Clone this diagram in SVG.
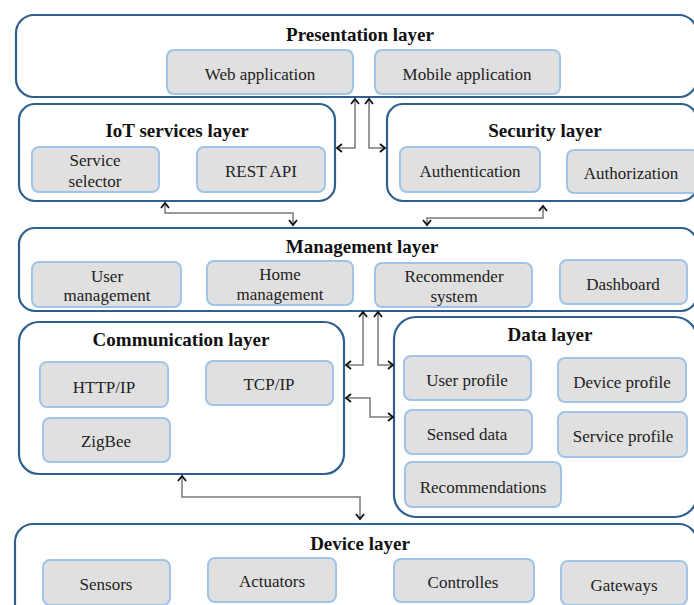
<svg xmlns="http://www.w3.org/2000/svg" width="694" height="605" viewBox="0 0 694 605">
<defs>
<marker id="arr" viewBox="-7 -6 9 12" refX="0" refY="0" markerWidth="9" markerHeight="12" markerUnits="userSpaceOnUse" orient="auto-start-reverse">
<path d="M-5,-4 L0,0 L-5,4" fill="none" stroke="#111" stroke-width="1.8"/>
</marker>
</defs>
<style>
.layer{fill:#fff;stroke:#2f5f8f;stroke-width:2.2}
.item{fill:#e0e0e0;stroke:#9fc4e8;stroke-width:2}
.title{font-family:"Liberation Serif","Times New Roman",serif;font-weight:bold;font-size:19px;fill:#111;text-anchor:middle}
.lbl{font-family:"Liberation Serif","Times New Roman",serif;font-size:17px;fill:#222;text-anchor:middle}
.conn{fill:none;stroke:#7a7a7a;stroke-width:1.5;marker-start:url(#arr);marker-end:url(#arr)}
</style>
<rect width="694" height="605" fill="#fff"/>

<g id="presentation">
<rect class="layer" x="16" y="15" width="681" height="82" rx="18"/>
<text class="title" x="360" y="41">Presentation layer</text>
<g id="web-app"><rect class="item" x="167" y="50" width="186" height="44" rx="7"/><text class="lbl" x="260" y="80">Web application</text></g>
<g id="mobile-app"><rect class="item" x="375" y="50" width="185" height="44" rx="7"/><text class="lbl" x="467" y="80">Mobile application</text></g>
</g>

<g id="iot-services">
<rect class="layer" x="19" y="104" width="316" height="97" rx="16"/>
<text class="title" x="177" y="137">IoT services layer</text>
<g id="service-selector"><rect class="item" x="32" y="147" width="127" height="45" rx="7"/><text class="lbl" x="95" y="166">Service</text><text class="lbl" x="95" y="187">selector</text></g>
<g id="rest-api"><rect class="item" x="197" y="147" width="128" height="45" rx="7"/><text class="lbl" x="261" y="177">REST API</text></g>
</g>

<g id="security">
<rect class="layer" x="387" y="104" width="310" height="97" rx="16"/>
<text class="title" x="545" y="137">Security layer</text>
<g id="authentication"><rect class="item" x="400" y="147" width="140" height="45" rx="7"/><text class="lbl" x="470" y="177">Authentication</text></g>
<g id="authorization"><rect class="item" x="567" y="150" width="132" height="43" rx="7"/><text class="lbl" x="631" y="179">Authorization</text></g>
</g>

<g id="management">
<rect class="layer" x="19" y="228" width="678" height="83" rx="16"/>
<text class="title" x="362" y="253">Management layer</text>
<g id="user-management"><rect class="item" x="32" y="262" width="149" height="45" rx="7"/><text class="lbl" x="107" y="282">User</text><text class="lbl" x="107" y="301">management</text></g>
<g id="home-management"><rect class="item" x="207" y="261" width="146" height="44" rx="7"/><text class="lbl" x="280" y="280">Home</text><text class="lbl" x="280" y="300">management</text></g>
<g id="recommender-system"><rect class="item" x="375" y="263" width="157" height="44" rx="7"/><text class="lbl" x="454" y="282">Recommender</text><text class="lbl" x="454" y="302">system</text></g>
<g id="dashboard"><rect class="item" x="560" y="260" width="127" height="44" rx="7"/><text class="lbl" x="623" y="290">Dashboard</text></g>
</g>

<g id="communication">
<rect class="layer" x="19" y="322" width="325" height="152" rx="20"/>
<text class="title" x="181" y="346">Communication layer</text>
<g id="http-ip"><rect class="item" x="40" y="362" width="128" height="45" rx="7"/><text class="lbl" x="104" y="393">HTTP/IP</text></g>
<g id="tcp-ip"><rect class="item" x="206" y="361" width="127" height="44" rx="7"/><text class="lbl" x="269" y="390">TCP/IP</text></g>
<g id="zigbee"><rect class="item" x="43" y="418" width="127" height="44" rx="7"/><text class="lbl" x="106" y="447">ZigBee</text></g>
</g>

<g id="data">
<rect class="layer" x="394" y="317" width="303" height="200" rx="22"/>
<text class="title" x="550" y="341">Data layer</text>
<g id="user-profile"><rect class="item" x="404" y="356" width="127" height="44" rx="7"/><text class="lbl" x="467" y="386">User profile</text></g>
<g id="device-profile"><rect class="item" x="558" y="358" width="128" height="44" rx="7"/><text class="lbl" x="622" y="388">Device profile</text></g>
<g id="sensed-data"><rect class="item" x="405" y="410" width="127" height="44" rx="7"/><text class="lbl" x="467" y="440">Sensed data</text></g>
<g id="service-profile"><rect class="item" x="558" y="412" width="129" height="45" rx="7"/><text class="lbl" x="623" y="442">Service profile</text></g>
<g id="recommendations"><rect class="item" x="405" y="462" width="156" height="45" rx="7"/><text class="lbl" x="483" y="493">Recommendations</text></g>
</g>

<g id="device">
<rect class="layer" x="15" y="524" width="682" height="100" rx="18"/>
<text class="title" x="360" y="550">Device layer</text>
<g id="sensors"><rect class="item" x="43" y="560" width="127" height="45" rx="7"/><text class="lbl" x="106" y="590">Sensors</text></g>
<g id="actuators"><rect class="item" x="208" y="558" width="128" height="44" rx="7"/><text class="lbl" x="272" y="587">Actuators</text></g>
<g id="controlles"><rect class="item" x="394" y="559" width="140" height="43" rx="7"/><text class="lbl" x="463" y="588">Controlles</text></g>
<g id="gateways"><rect class="item" x="561" y="561" width="126" height="44" rx="7"/><text class="lbl" x="624" y="591">Gateways</text></g>
</g>

<g id="connectors">
<path class="conn" d="M355,99 V148 H337"/>
<path class="conn" d="M369,99 V148 H385"/>
<path class="conn" d="M165,203 V213 H293 V225"/>
<path class="conn" d="M427,225 V218 H543 V206"/>
<path class="conn" d="M363,312 V365 H346"/>
<path class="conn" d="M378,312 V365 H393"/>
<path class="conn" d="M346,398 H370 V417 H393"/>
<path class="conn" d="M182,476 V497 H360 V519"/>
</g>
</svg>
